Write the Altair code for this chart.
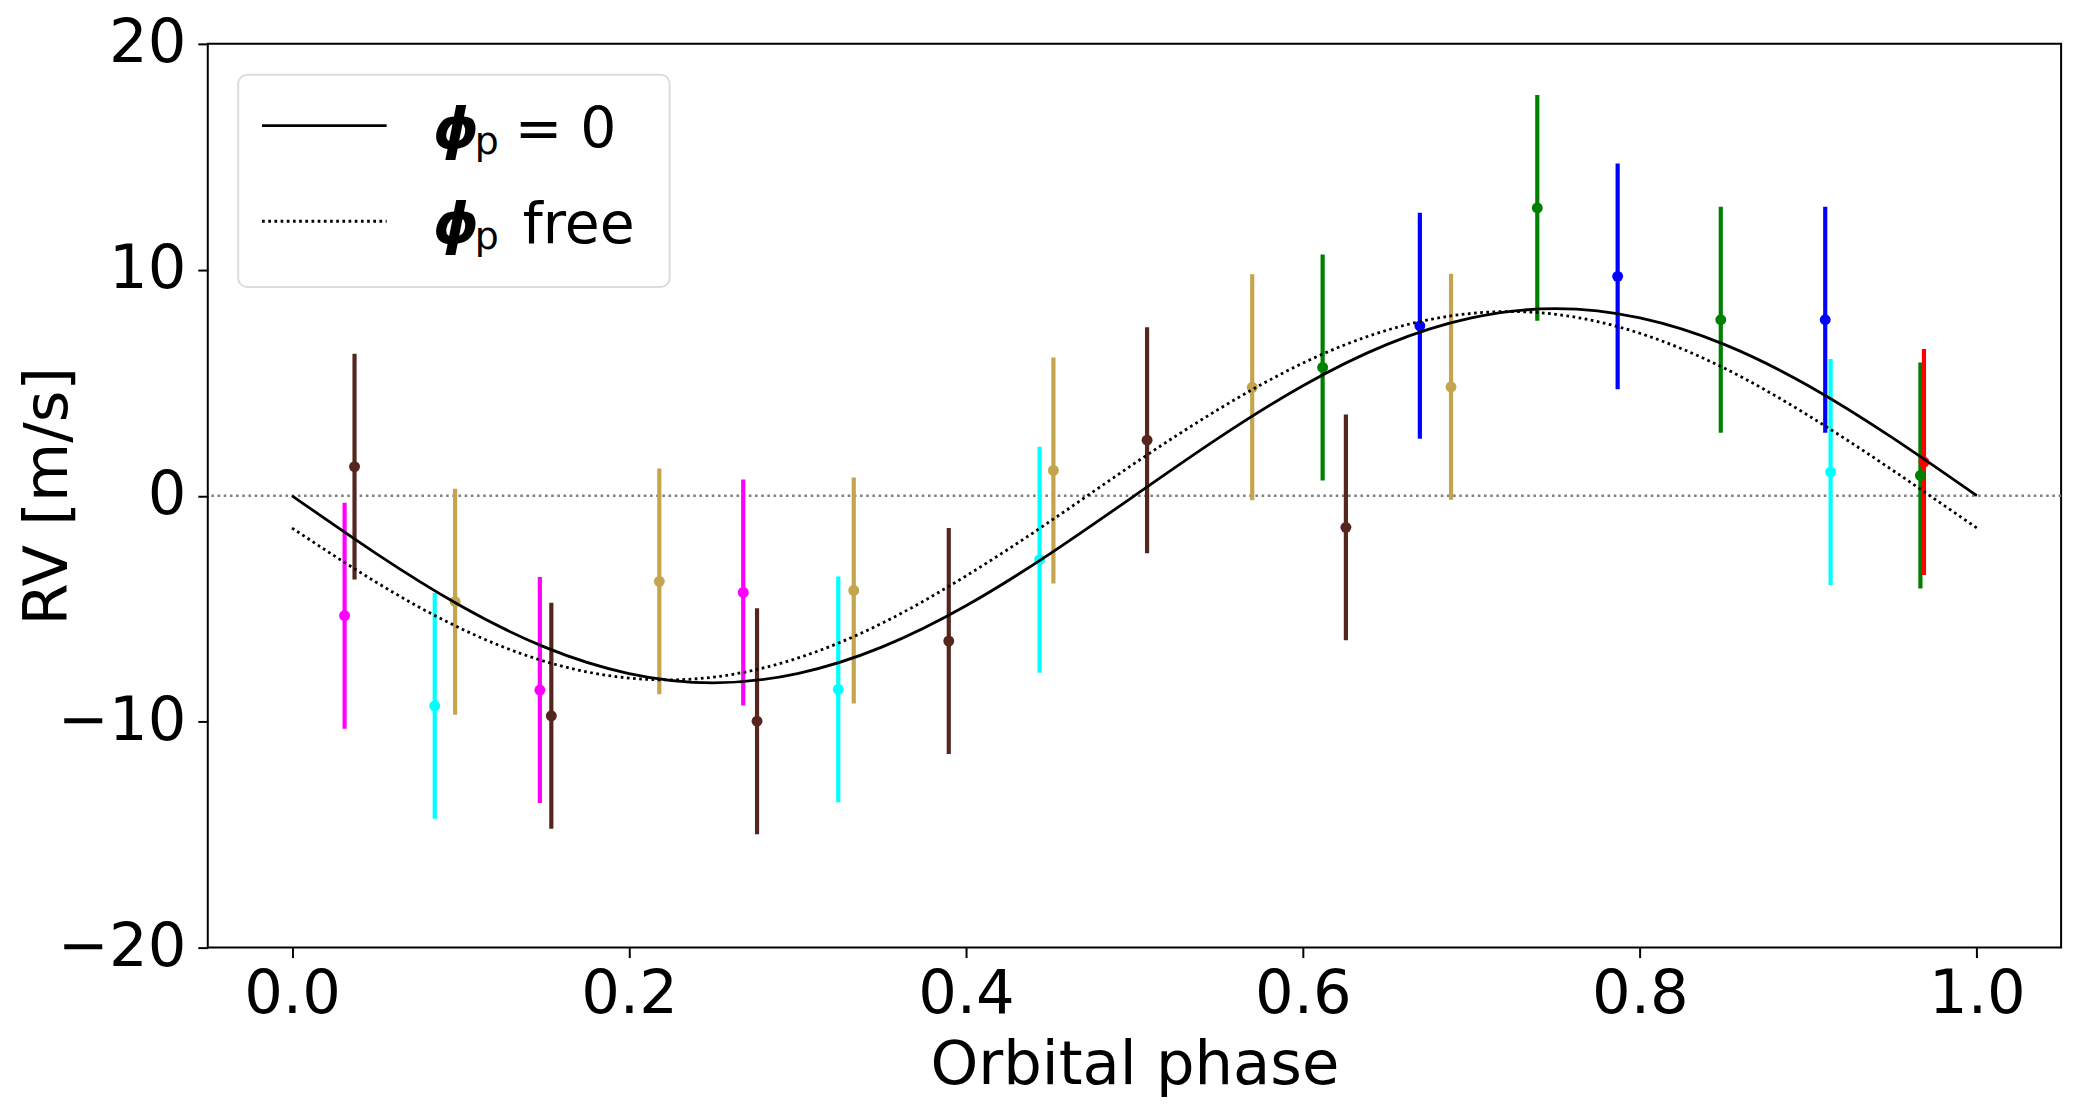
import altair as alt
import pandas as pd

# ---------------- data ----------------
phase = [0.0312, 0.0371, 0.0847, 0.0968, 0.1471, 0.1539, 0.2180, 0.2678, 0.2760,
         0.3242, 0.3334, 0.3898, 0.4437, 0.4519, 0.5075, 0.5699, 0.6117, 0.6255,
         0.6694, 0.6879, 0.7391, 0.7868, 0.8480, 0.9100, 0.9132, 0.9665, 0.9686]
rv = [-5.31, 1.29, -9.30, -4.69, -8.60, -9.74, -3.79, -4.28, -9.98,
      -8.57, -4.19, -6.43, -2.83, 1.12, 2.46, 4.80, 5.68, -1.40,
      7.52, 4.82, 12.74, 9.71, 7.79, 7.79, 1.05, 0.90, 1.49]
rv_err = [5.0, 5.0, 5.0, 5.0, 5.0, 5.0, 5.0, 5.0, 5.0,
          5.0, 5.0, 5.0, 5.0, 5.0, 5.0, 5.0, 5.0, 5.0,
          5.0, 5.0, 5.0, 5.0, 5.0, 5.0, 5.0, 5.0, 5.0]
group = ["S1", "S4", "S2", "S3", "S1", "S4", "S3", "S1", "S4",
         "S2", "S3", "S4", "S2", "S3", "S4", "S3", "S5", "S4",
         "S6", "S3", "S5", "S6", "S5", "S6", "S2", "S5", "S7"]
groups = ["S1", "S2", "S3", "S4", "S5", "S6", "S7"]
palette = ["#ff00ff", "#00ffff", "#c4a44c", "#55261d", "#008000", "#0000ff", "#ff0000"]

model_phase = [0.00, 0.05, 0.10, 0.15, 0.20, 0.25, 0.30, 0.35, 0.40, 0.45, 0.50,
               0.55, 0.60, 0.65, 0.70, 0.75, 0.80, 0.85, 0.90, 0.95, 1.00]
model_fixed = [0.00, -2.56, -4.87, -6.70, -7.87, -8.28, -7.87, -6.70, -4.87, -2.56, 0.00,
               2.56, 4.87, 6.70, 7.87, 8.28, 7.87, 6.70, 4.87, 2.56, 0.00]
model_free = [-1.43, -3.83, -5.87, -7.33, -8.07, -8.03, -7.19, -5.65, -3.55, -1.13, 1.43,
              3.83, 5.87, 7.33, 8.07, 8.03, 7.19, 5.65, 3.55, 1.13, -1.43]

zero_level = [0]
x_ticks = [0.0, 0.2, 0.4, 0.6, 0.8, 1.0]
y_ticks = [-20, -10, 0, 10, 20]
legend_symbol = "\u03d5"
legend_sub = "p"
legend_labels = ["= 0", "free"]

# ---------------- tables ----------------
df = pd.DataFrame({"phase": phase, "rv": rv, "err": rv_err, "group": group})
df["lo"] = df["rv"] - df["err"]
df["hi"] = df["rv"] + df["err"]
df["gi"] = df["group"].map({g: i for i, g in enumerate(groups)})
df = df.sort_values("gi", kind="stable").reset_index(drop=True)

models = pd.DataFrame({"phase": model_phase, "fixed": model_fixed, "free": model_free})
zero_df = pd.DataFrame({"rv": zero_level})
one = pd.DataFrame({"k": [0]})

FONT = "DejaVu Sans"

xscale = alt.Scale(domain=[-0.05, 1.05], nice=False, zero=False)
yscale = alt.Scale(domain=[-20, 20], nice=False, zero=False)
xaxis = alt.Axis(values=x_ticks, format=".1f", title="Orbital phase", labelPadding=7,
                 titleX=930, titleY=136, titleBaseline="alphabetic", titleAlign="center",
                 labelFlush=False, labelOverlap=False)
yaxis = alt.Axis(values=y_ticks, format="d", title="RV [m/s]", labelPadding=12,
                 titleX=-142, titleY=453.5, titleAngle=270, titleBaseline="alphabetic",
                 titleAlign="center", labelFlush=False, labelOverlap=False)


def X():
    return alt.X("phase:Q", scale=xscale, axis=xaxis)


def Y(field):
    return alt.Y(f"{field}:Q", scale=yscale, axis=yaxis)


color = alt.Color("group:N", scale=alt.Scale(domain=groups, range=palette), legend=None)

zero_rule = alt.Chart(zero_df).mark_rule(color="#808080", strokeWidth=2.4,
                                         strokeDash=[2.6, 3.6]).encode(y=Y("rv"))

bars = alt.Chart(df).mark_rule(strokeWidth=4.2).encode(
    x=X(), y=Y("lo"), y2="hi:Q", color=color)

points = alt.Chart(df).mark_point(filled=True, size=120, opacity=1, strokeWidth=1).encode(
    x=X(), y=Y("rv"), color=color)

line_fixed = alt.Chart(models).mark_line(color="black", strokeWidth=2.8,
                                          interpolate="natural").encode(x=X(), y=Y("fixed"))
line_free = alt.Chart(models).mark_line(color="black", strokeWidth=2.8, strokeDash=[2.7, 3.5],
                                         interpolate="natural").encode(x=X(), y=Y("free"))

# ---------------- legend (drawn by hand, pixel layout) ----------------
leg_box = alt.Chart(one).mark_rect(fill="white", fillOpacity=0.8, stroke="#dcdcdc",
                                   strokeWidth=2, cornerRadius=9).encode(
    x=alt.value(30.5), x2=alt.value(463.5), y=alt.value(31), y2=alt.value(244))
leg_solid = alt.Chart(one).mark_rule(color="black", strokeWidth=2.8).encode(
    x=alt.value(54.5), x2=alt.value(179.5), y=alt.value(82))
leg_dot = alt.Chart(one).mark_rule(color="black", strokeWidth=2.8, strokeDash=[2.7, 3.5]).encode(
    x=alt.value(54.5), x2=alt.value(179.5), y=alt.value(178))

leg_layers = [leg_box, leg_solid, leg_dot]
for row_y, lab, lab_x in [(105, legend_labels[0], 308), (200, legend_labels[1], 316)]:
    leg_layers.append(alt.Chart(one).mark_text(
        text=legend_symbol, font=FONT, fontSize=58, fontWeight="bold", fontStyle="italic",
        align="left", baseline="alphabetic", color="black").encode(
        x=alt.value(226), y=alt.value(row_y)))
    leg_layers.append(alt.Chart(one).mark_text(
        text=legend_sub, font=FONT, fontSize=38, align="left", baseline="alphabetic",
        color="black").encode(x=alt.value(268), y=alt.value(row_y + 6)))
    leg_layers.append(alt.Chart(one).mark_text(
        text=lab, font=FONT, fontSize=57, align="left", baseline="alphabetic",
        color="black").encode(x=alt.value(lab_x), y=alt.value(row_y)))

chart = alt.layer(zero_rule, bars, points, line_fixed, line_free, *leg_layers).properties(
    width=1860, height=907,
    padding={"left": 200.5, "top": 34, "right": 30, "bottom": 169},
    autosize=alt.AutoSizeParams(type="none"),
    background="white",
).configure_view(stroke="black", strokeWidth=2).configure_axis(
    domain=False, grid=False, ticks=True, tickSize=10, tickWidth=2, tickColor="black",
    labelFont=FONT, labelFontSize=61, labelColor="black",
    titleFont=FONT, titleFontSize=61, titleFontWeight="normal", titleColor="black",
)

chart.save("out.html", embed_options={"renderer": "svg", "actions": False})
